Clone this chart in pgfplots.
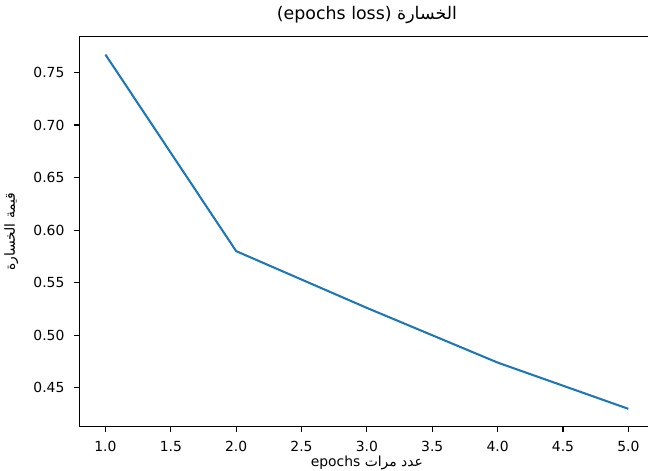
\documentclass[border=0pt]{standalone}
\usepackage{fontspec}
\setmainfont{DejaVu Sans}
\newfontfamily\arabicfont[Script=Arabic]{DejaVu Sans}
\TeXXeTstate=1
\usepackage{pgfplots}
\pgfplotsset{compat=1.18}
\definecolor{mplblue}{HTML}{1F77B4}

\begin{document}
\begin{tikzpicture}
\clip (-79.3pt,-44.3pt) rectangle (568.7pt,426.7pt);
\begin{axis}[
    at={(0pt,0pt)}, anchor=south west,
    scale only axis,
    width=575.2pt, height=390pt,
    xmin=0.8, xmax=5.2,
    ymin=0.413, ymax=0.784,
    xtick={1,1.5,2,2.5,3,3.5,4,4.5,5},
    ytick={0.45,0.5,0.55,0.6,0.65,0.7,0.75},
    xticklabel style={/pgf/number format/fixed, /pgf/number format/fixed zerofill,
        /pgf/number format/precision=1, anchor=north, yshift=-9.8pt},
    yticklabel style={/pgf/number format/fixed, /pgf/number format/fixed zerofill,
        /pgf/number format/precision=2, anchor=east, xshift=-9.8pt},
    /pgf/number format/assume math mode=true,
    tick label style={font=\fontsize{13.9}{16}\selectfont, inner sep=0pt},
    tick align=outside,
    major tick length=4.9pt,
    every tick/.style={black, line width=1.1pt},
    xtick pos=bottom, ytick pos=left,
    axis line style={line width=1.1pt},
    title={\arabicfont\beginR الخسارة \beginL(epochs loss)\endL\endR},
    title style={at={(axis description cs:0.5,1)}, anchor=base, inner sep=0pt, yshift=11.2pt, font=\fontsize{17.4}{20}\selectfont},
    xlabel={\arabicfont\beginR عدد مرات epochs\endR},
    xlabel style={at={(axis description cs:0.5,0)}, anchor=base, inner sep=0pt, yshift=-39.3pt, font=\fontsize{13.9}{16}\selectfont},
]
\addplot[mplblue, line width=2.08pt, line join=round] coordinates {
    (1,0.767) (2,0.580) (3,0.526) (4,0.474) (5,0.430)
};
\end{axis}
\node[rotate=90, anchor=south, inner sep=0pt, font=\fontsize{13.9}{16}\selectfont] at (-60.9pt,195pt) {\arabicfont\beginR قيمة الخسارة\endR};
\end{tikzpicture}
\end{document}
